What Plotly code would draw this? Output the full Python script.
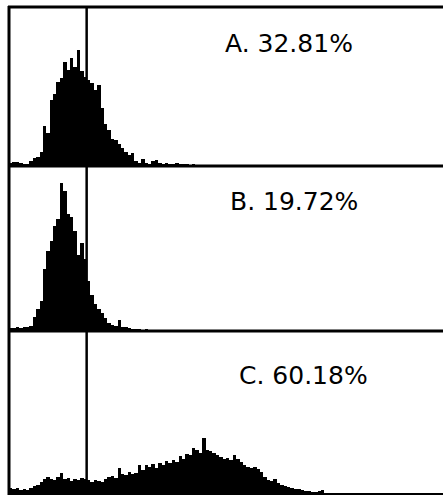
import plotly.graph_objects as go

# Histogram channels (0..127), counts
channels = list(range(128))

counts_A = [3, 4, 4, 3, 2, 2, 5, 8, 9, 14, 40, 33, 66, 72, 84, 88, 104, 96, 108, 99,
            116, 95, 89, 86, 83, 76, 81, 58, 42, 36, 27, 26, 22, 18, 14, 11, 13, 5, 3, 7,
            3, 2, 5, 6, 3, 2, 3, 2, 2, 3, 2, 2, 2, 1, 2, 1, 1, 1, 1, 1,
            1, 1, 1, 1, 1, 0]
counts_B = [3, 3, 4, 3, 4, 4, 5, 14, 22, 30, 62, 80, 90, 105, 112, 148, 140, 117, 114, 100,
            76, 88, 72, 50, 36, 27, 22, 18, 13, 8, 6, 5, 11, 4, 4, 3, 2, 2, 2, 1,
            2, 1, 1, 1, 1, 0]
counts_C = [6, 5, 6, 4, 5, 4, 6, 8, 9, 12, 15, 17, 15, 14, 17, 21, 15, 16, 13, 15,
            14, 16, 15, 14, 12, 14, 13, 12, 15, 17, 18, 16, 26, 20, 19, 22, 20, 21, 29, 24,
            29, 27, 30, 26, 31, 29, 33, 31, 34, 32, 38, 35, 40, 39, 46, 44, 41, 56, 44, 43,
            41, 39, 37, 35, 36, 34, 39, 35, 32, 29, 27, 26, 27, 25, 22, 17, 14, 13, 15, 11,
            9, 8, 7, 6, 5, 5, 4, 3, 3, 2, 2, 3, 4, 1, 1, 1, 1, 1, 0]

labels = ["A. 32.81%", "B. 19.72%", "C. 60.18%"]
marker_channel = 22.9

def pad(v):
    return v + [0] * (len(channels) - len(v))

series = [pad(counts_A), pad(counts_B), pad(counts_C)]

H = 495.0
W = 443.0
# panel pixel boundaries (top, bottom)
panels = [(7, 166), (166, 331), (331, 494)]
label_pos = [(223, 43), (228, 202), (237, 375)]

fig = go.Figure()
for i, (vals, (top, bot)) in enumerate(zip(series, panels)):
    ax = "" if i == 0 else str(i + 1)
    fig.add_trace(go.Bar(
        x=[c + 0.5 for c in channels], y=vals, width=1.0,
        marker=dict(color="black", line=dict(width=0)),
        xaxis="x" + ax, yaxis="y" + ax, showlegend=False, hoverinfo="skip"))
    dom = [1 - bot / H, 1 - top / H]
    axis_common = dict(showgrid=False, zeroline=False, showticklabels=False,
                       ticks="", showline=False, fixedrange=True)
    fig.layout["xaxis" + ax] = dict(domain=[9 / W, 1], range=[0, 128],
                                    anchor="y" + ax, **axis_common)
    fig.layout["yaxis" + ax] = dict(domain=dom, range=[0, bot - top],
                                    anchor="x" + ax, **axis_common)
    # threshold marker line
    fig.add_shape(type="line", xref="x" + ax, yref="y" + ax + " domain",
                  x0=marker_channel, x1=marker_channel, y0=0, y1=1,
                  line=dict(color="black", width=2.5))
    fig.add_annotation(text=labels[i], xref="paper", yref="paper",
                       x=label_pos[i][0] / W, y=1 - label_pos[i][1] / H,
                       xanchor="left", yanchor="middle", showarrow=False,
                       font=dict(family="DejaVu Sans", size=25, color="black"))

# frame lines
for yp, w in [(7, 3), (166, 3), (331, 3), (494, 2)]:
    fig.add_shape(type="line", xref="paper", yref="paper",
                  x0=8 / W, x1=1, y0=1 - yp / H, y1=1 - yp / H,
                  line=dict(color="black", width=w))
fig.add_shape(type="line", xref="paper", yref="paper",
              x0=9 / W, x1=9 / W, y0=1 - 6 / H, y1=1 - 495 / H,
              line=dict(color="black", width=3))

fig.update_layout(width=443, height=495, margin=dict(l=0, r=0, t=0, b=0),
                  paper_bgcolor="white", plot_bgcolor="white", bargap=0)

fig.write_html("out.html", config={"displayModeBar": False},
               post_script="document.body.style.margin='0';document.body.style.overflow='hidden';")
